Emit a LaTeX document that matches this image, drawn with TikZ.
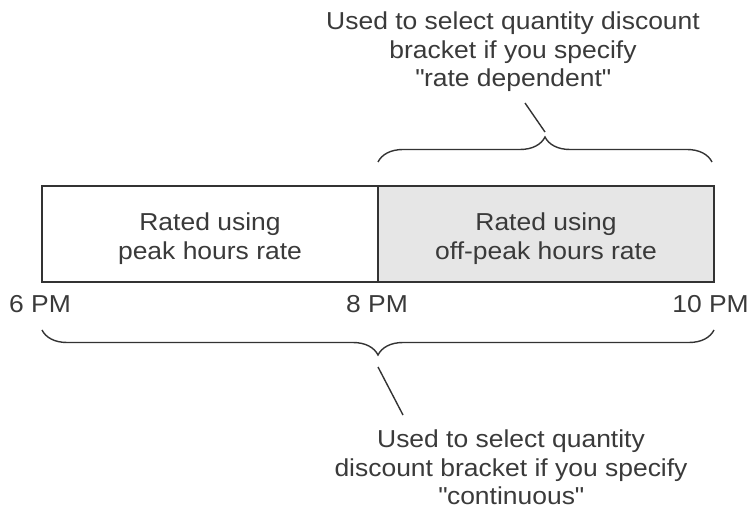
\documentclass[tikz,border=0pt]{standalone}
\usepackage{fontspec}
\setmainfont{Liberation Sans}[FakeStretch=1.08]
\usetikzlibrary{decorations.pathreplacing}
\definecolor{ink}{HTML}{333333}
\definecolor{txt}{HTML}{3A3A3A}
\definecolor{shade}{HTML}{E6E6E6}
\begin{document}
\begin{tikzpicture}[x=1pt,y=-1pt,
  seg/.style={draw=ink,line width=1.8pt,minimum width=336pt,minimum height=96pt,inner sep=0pt},
  lbl/.style={text=txt,font=\fontsize{24.5}{28.5}\selectfont,align=center,inner sep=0pt},
  brc/.style={draw=ink,line width=1.4pt,decorate,decoration={brace,amplitude=25pt,aspect=0.5}},
  lead/.style={draw=ink,line width=1.4pt}]
\useasboundingbox (0,0) rectangle (752,518);
% boxes
\node[seg,fill=white] (peak) at (210,234) {};
\node[seg,fill=shade] (off) at (546,234) {};
\node[lbl,anchor=north] (peaktxt) at (210,213) {Rated using\\peak hours rate};
\node[lbl,anchor=north] (offtxt) at (546,213) {Rated using\\off-peak hours rate};
% time labels
\node[lbl,anchor=base] (t6) at (40,313) {6 PM};
\node[lbl,anchor=base] (t8) at (377,313) {8 PM};
\node[lbl,anchor=base east] (t10) at (749,313) {10 PM};
% top brace
\coordinate (tbl) at (378,162);
\coordinate (tbr) at (712,162);
\draw[brc] (tbl) -- (tbr);
\coordinate (ttip) at (545,132);
\coordinate (tend) at (525,103);
\draw[lead] (ttip) -- (tend);
\node[lbl,anchor=north] (toptxt) at (513,12) {Used to select quantity discount\\bracket if you specify\\\textquotedbl rate dependent\textquotedbl};
% bottom brace
\coordinate (bbl) at (42,330);
\coordinate (bbr) at (714,330);
\draw[brc] (bbr) -- (bbl);
\coordinate (btip) at (378,367);
\coordinate (bend) at (403,415);
\draw[lead] (btip) -- (bend);
\node[lbl,anchor=north] (bottxt) at (511,430) {Used to select quantity\\discount bracket if you specify\\\textquotedbl continuous\textquotedbl};
\end{tikzpicture}
\end{document}
